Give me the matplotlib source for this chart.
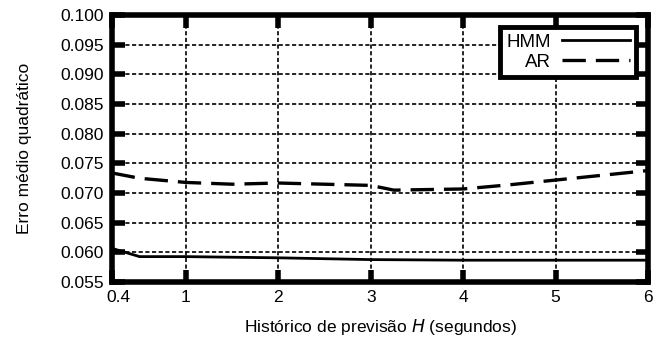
import matplotlib
matplotlib.use("Agg")
import matplotlib.pyplot as plt
import matplotlib.transforms as mtransforms

plt.rcParams['font.family'] = ['Liberation Sans', 'DejaVu Sans']

# x positions on the axis (first position carries the "0.4" label)
tick_pos = [0.2, 1, 2, 3, 4, 5, 6]
tick_labels = ["0.4", "1", "2", "3", "4", "5", "6"]

hmm_x = [0.2, 0.5, 1, 2, 3, 4, 5, 6]
hmm_y = [0.0607, 0.0593, 0.0593, 0.0591, 0.0588, 0.0587, 0.0587, 0.0587]

ar_x = [0.2, 0.5, 1, 1.5, 2, 2.5, 3, 3.25, 4, 4.5, 5, 6]
ar_y = [0.0734, 0.0725, 0.0718, 0.0715, 0.0717, 0.0715, 0.0713, 0.0705, 0.0707, 0.0714, 0.0722, 0.0738]

yticks = [0.055, 0.060, 0.065, 0.070, 0.075, 0.080, 0.085, 0.090, 0.095, 0.100]

fs = 12.5

fig = plt.figure(figsize=(6.58, 3.42), dpi=100)
ax = fig.add_axes([0.170, 0.175, 0.815, 0.781])

ax.plot(hmm_x, hmm_y, color='black', lw=2.0, label='HMM', zorder=3)
ax.plot(ar_x, ar_y, color='black', lw=2.4, dashes=(7, 3), label='AR', zorder=3)

ax.set_xlim(0.2, 6)
ax.set_ylim(0.055, 0.100)
ax.set_xticks(tick_pos)
ax.set_xticklabels(tick_labels)
ax.set_yticks(yticks)
ax.set_yticklabels([f"{v:.3f}" for v in yticks])

ax.grid(True, color='black', lw=1.2, linestyle=(0, (2.5, 1.5)))
ax.set_axisbelow(True)

for s in ax.spines.values():
    s.set_linewidth(4)
ax.tick_params(direction='in', length=9, width=4, top=True, right=True,
               labelsize=fs, pad=6)

# shift first x label slightly right, like the reference
lbl0 = ax.get_xticklabels()[0]
lbl0.set_transform(lbl0.get_transform() + mtransforms.ScaledTranslation(7/100, 0, fig.dpi_scale_trans))

ax.set_ylabel("Erro médio quadrático", fontsize=fs, labelpad=20)
ax.set_xlabel("Histórico de previsão $\\it{H}$ (segundos)", fontsize=fs, labelpad=8)

leg = ax.legend(loc='upper right', markerfirst=False, fontsize=13.5,
                frameon=True, fancybox=False, handlelength=3.6,
                borderpad=0.35, labelspacing=0.15, handletextpad=0.6,
                borderaxespad=0.0,
                bbox_to_anchor=(0.978, 0.955))
leg.get_frame().set_edgecolor('black')
leg.get_frame().set_linewidth(3.5)
leg.get_frame().set_alpha(1)
for t in leg.get_texts():
    t.set_ha('right')

fig.savefig("out.png", dpi=100)
